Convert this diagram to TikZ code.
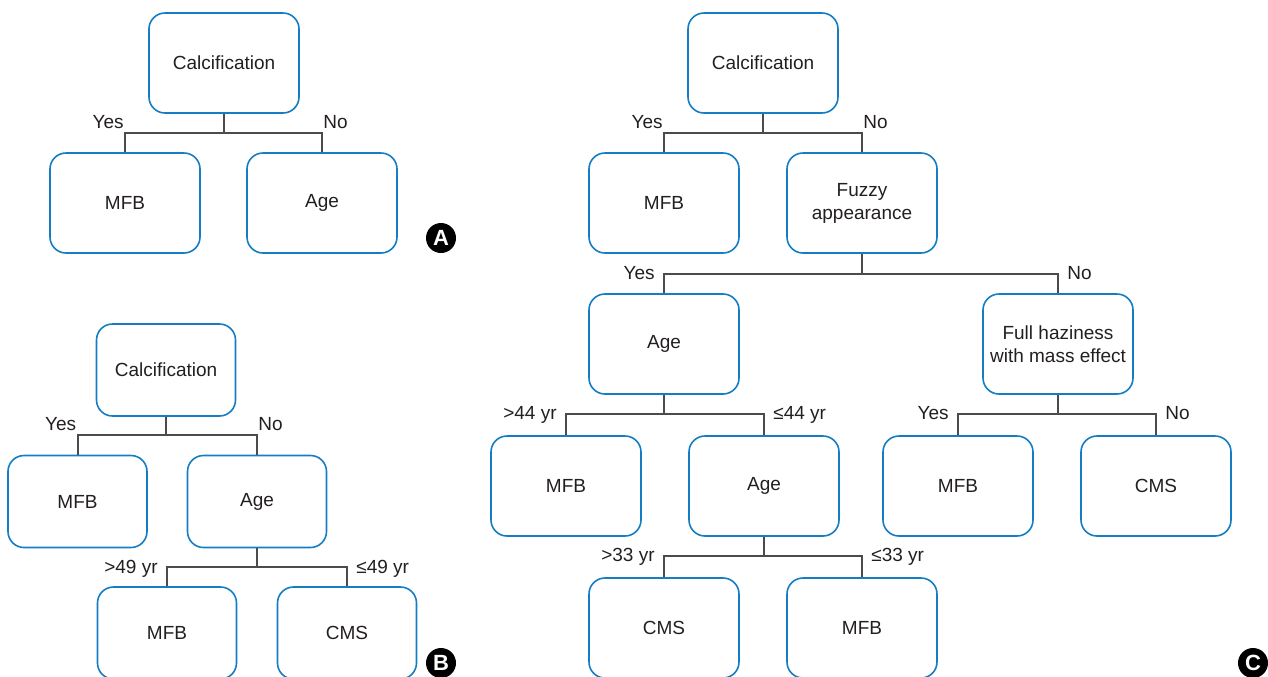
\documentclass[tikz,border=0pt]{standalone}
\usepackage{fontspec}
\setmainfont{Liberation Sans}
\definecolor{boxblue}{RGB}{20,125,195}
\definecolor{linegray}{RGB}{75,75,75}
\definecolor{txt}{RGB}{35,31,32}

\begin{document}
\begin{tikzpicture}[x=0.5pt,y=-0.5pt,
  box/.style={draw=boxblue, line width=0.8pt, rounded corners=8pt, minimum width=75pt, minimum height=50pt, align=center, text=txt, font=\fontsize{9.5}{11.5}\selectfont},
  sbox/.style={box, minimum width=69.5pt, minimum height=46pt},
  branch/.style={draw=linegray, line width=1pt},
  lbl/.style={text=txt, inner sep=0pt, font=\fontsize{9.5}{11.5}\selectfont},
  toplbl/.style={lbl, inner xsep=0.5pt, yshift=2pt},
  midlbl/.style={lbl, inner xsep=4.5pt, yshift=-3pt},
  badge/.style={circle, fill=black, text=white, inner sep=0pt, minimum size=15pt, font=\bfseries\fontsize{11}{13}\selectfont}]
\useasboundingbox (0,0) rectangle (1268,676);
\clip (0,0) rectangle (1268,676);

% A
\node[box] (calcA) at (224,63) {Calcification};
\node[box] (mfbA) at (125,203) {MFB};
\node[box] (ageA) at (322,203) {Age};
\draw[branch] (calcA.south) -- ++(0,19) coordinate (jA) -| (mfbA.north);
\draw[branch] (jA) -| (ageA.north);
\node[toplbl, anchor=base east] (yesA) at (mfbA.north |- jA) {Yes};
\node[toplbl, anchor=base west] (noA) at (ageA.north |- jA) {No};
\node[badge] (tagA) at (441,238) {A};

% B
\node[sbox] (calcB) at (166,370) {Calcification};
\node[sbox] (mfbB) at (77.5,501.5) {MFB};
\node[sbox] (ageB) at (257,501.5) {Age};
\node[sbox] (mfbBB) at (167,633) {MFB};
\node[sbox] (cmsB) at (347,633) {CMS};
\draw[branch] (calcB.south) -- ++(0,18) coordinate (jB) -| (mfbB.north);
\draw[branch] (jB) -| (ageB.north);
\draw[branch] (ageB.south) -- ++(0,19) coordinate (jBB) -| (mfbBB.north);
\draw[branch] (jBB) -| (cmsB.north);
\node[toplbl, anchor=base east] (yesB) at (mfbB.north |- jB) {Yes};
\node[toplbl, anchor=base west] (noB) at (ageB.north |- jB) {No};
\node[midlbl, anchor=base east] (oldB) at (mfbBB.north |- jBB) {>49 yr};
\node[midlbl, anchor=base west] (youngB) at (cmsB.north |- jBB) {≤49 yr};
\node[badge] (tagB) at (441,663) {B};

% C
\node[box] (calcC) at (763,63) {Calcification};
\node[box] (mfbC) at (664,203) {MFB};
\node[box] (fuzzC) at (862,203) {Fuzzy\\appearance};
\node[box] (ageC) at (664,344) {Age};
\node[box] (hazeC) at (1058,344) {Full haziness\\with mass effect};
\node[box] (mfbCC) at (566,486) {MFB};
\node[box] (ageCC) at (764,486) {Age};
\node[box] (mfbCCC) at (958,486) {MFB};
\node[box] (cmsC) at (1156,486) {CMS};
\node[box] (cmsCC) at (664,628) {CMS};
\node[box] (mfbCCCC) at (862,628) {MFB};
\draw[branch] (calcC.south) -- ++(0,19) coordinate (jC) -| (mfbC.north);
\draw[branch] (jC) -| (fuzzC.north);
\draw[branch] (fuzzC.south) -- ++(0,20) coordinate (jCC) -| (ageC.north);
\draw[branch] (jCC) -| (hazeC.north);
\draw[branch] (ageC.south) -- ++(0,19) coordinate (jCCC) -| (mfbCC.north);
\draw[branch] (jCCC) -| (ageCC.north);
\draw[branch] (ageCC.south) -- ++(0,19) coordinate (jCCCC) -| (cmsCC.north);
\draw[branch] (jCCCC) -| (mfbCCCC.north);
\draw[branch] (hazeC.south) -- ++(0,19) coordinate (jHC) -| (mfbCCC.north);
\draw[branch] (jHC) -| (cmsC.north);
\node[toplbl, anchor=base east] (yesC) at (mfbC.north |- jC) {Yes};
\node[toplbl, anchor=base west] (noC) at (fuzzC.north |- jC) {No};
\node[midlbl, anchor=base east] (yesCC) at (ageC.north |- jCC) {Yes};
\node[midlbl, anchor=base west] (noCC) at (hazeC.north |- jCC) {No};
\node[midlbl, anchor=base east] (oldC) at (mfbCC.north |- jCCC) {>44 yr};
\node[midlbl, anchor=base west] (youngC) at (ageCC.north |- jCCC) {≤44 yr};
\node[midlbl, anchor=base east] (oldCC) at (cmsCC.north |- jCCCC) {>33 yr};
\node[midlbl, anchor=base west] (youngCC) at (mfbCCCC.north |- jCCCC) {≤33 yr};
\node[midlbl, anchor=base east] (yesHC) at (mfbCCC.north |- jHC) {Yes};
\node[midlbl, anchor=base west] (noHC) at (cmsC.north |- jHC) {No};
\node[badge] (tagC) at (1253,663) {C};
\end{tikzpicture}
\end{document}
